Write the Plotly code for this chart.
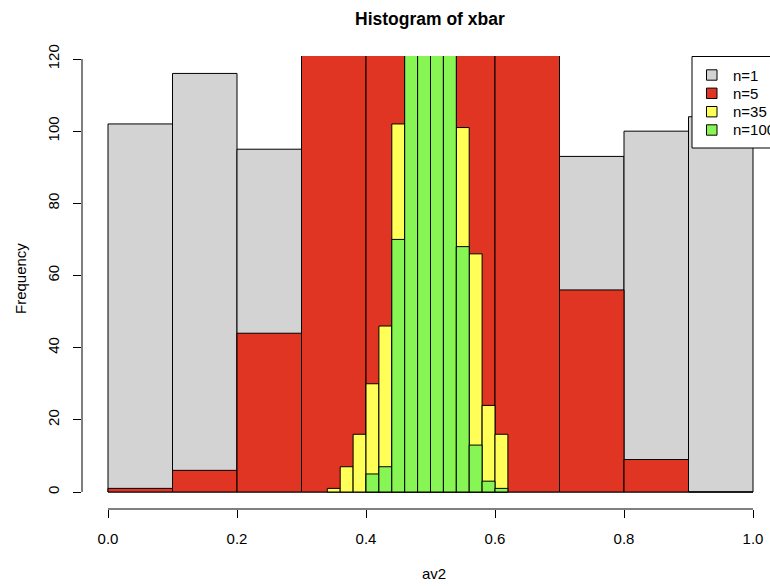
import numpy as np
import plotly.graph_objects as go

# ---- data ----
breaks_n1 = [0.0, 0.1, 0.2, 0.3, 0.4, 0.5, 0.6, 0.7, 0.8, 0.9, 1.0]
counts_n1 = [102, 116, 95, 98, 97, 99, 96, 93, 100, 104]

breaks_n5 = [0.0, 0.1, 0.2, 0.3, 0.4, 0.5, 0.6, 0.7, 0.8, 0.9, 1.0]
counts_n5 = [1, 6, 44, 190, 252, 254, 188, 56, 9, 0]

breaks_n35 = [0.34, 0.36, 0.38, 0.40, 0.42, 0.44, 0.46, 0.48, 0.50, 0.52,
              0.54, 0.56, 0.58, 0.60, 0.62]
counts_n35 = [1, 7, 16, 30, 46, 102, 143, 155, 152, 141, 101, 66, 24, 16]

breaks_n100 = [0.40, 0.42, 0.44, 0.46, 0.48, 0.50, 0.52, 0.54, 0.56, 0.58,
               0.60, 0.62]
counts_n100 = [5, 7, 70, 195, 225, 225, 188, 68, 13, 3, 1]

series_names = ["n=1", "n=5", "n=35", "n=100"]
series_colors = ["#D3D3D3", "#DF3522", "#FFFF58", "#87F553"]

x_tick_vals = [0.0, 0.2, 0.4, 0.6, 0.8, 1.0]
x_tick_text = ["0.0", "0.2", "0.4", "0.6", "0.8", "1.0"]
y_tick_vals = [0, 20, 40, 60, 80, 100, 120]

FONT = "Liberation Sans, Arial, Helvetica, sans-serif"
FS = 15

# plot-area geometry in pixels
L, T, B, W, H = 82, 56, 77, 770, 586
PW, PH = W - L, H - T - B


def px_x(px):
    return (px - L) / PW


def px_y(py):
    return (H - B - py) / PH


fig = go.Figure()
for brks, cnts, name, col in zip(
        [breaks_n1, breaks_n5, breaks_n35, breaks_n100],
        [counts_n1, counts_n5, counts_n35, counts_n100],
        series_names, series_colors):
    b = np.array(brks)
    centers = (b[:-1] + b[1:]) / 2
    widths = np.diff(b)
    fig.add_trace(go.Bar(
        x=centers, y=cnts, width=widths, name=name,
        marker=dict(color=col, line=dict(color="black", width=1)),
    ))

shapes = [
    dict(type="line", xref="x", yref="paper", x0=0, x1=1, y0=0, y1=0,
         line=dict(color="black", width=1)),
    dict(type="line", xref="paper", yref="y", x0=0, x1=0, y0=0, y1=120,
         line=dict(color="black", width=1)),
    # legend box
    dict(type="rect", xref="paper", yref="paper",
         x0=px_x(692), x1=px_x(800), y0=px_y(148), y1=px_y(56.5),
         line=dict(color="black", width=1), fillcolor="white"),
]
annotations = [
    dict(text="<b>Histogram of xbar</b>", xref="paper", yref="paper",
         x=px_x(430.5), y=px_y(19), showarrow=False,
         xanchor="center", yanchor="middle",
         font=dict(family=FONT, size=17.5, color="black")),
    dict(text="av2", xref="paper", yref="paper",
         x=px_x(434), y=px_y(573), showarrow=False,
         xanchor="center", yanchor="middle",
         font=dict(family=FONT, size=FS, color="black")),
    dict(text="Frequency", xref="paper", yref="paper",
         x=px_x(20), y=px_y(279), showarrow=False,
         textangle=-90, xanchor="center", yanchor="middle",
         font=dict(family=FONT, size=FS, color="black")),
]
row_y = [75, 93.3, 111.7, 130]
for name, col, ry in zip(series_names, series_colors, row_y):
    shapes.append(dict(type="rect", xref="paper", yref="paper",
                       x0=px_x(706.5), x1=px_x(717), y0=px_y(ry + 5.2),
                       y1=px_y(ry - 5.2), fillcolor=col,
                       line=dict(color="black", width=1)))
    annotations.append(dict(text=name, xref="paper", yref="paper",
                            x=px_x(731), y=px_y(ry), showarrow=False,
                            xanchor="left", yanchor="middle",
                            font=dict(family=FONT, size=FS,
                                      color="black")))

fig.update_layout(
    width=W, height=H,
    barmode="overlay",
    plot_bgcolor="white", paper_bgcolor="white",
    margin=dict(l=L, r=0, t=T, b=B, autoexpand=False, pad=0),
    font=dict(family=FONT, size=FS, color="black"),
    showlegend=False,
    xaxis=dict(
        range=[-26 / 645, 662 / 645], showgrid=False, zeroline=False,
        showline=False, ticks="outside", ticklen=8, tickwidth=1,
        tickcolor="black", tickvals=x_tick_vals, ticktext=x_tick_text,
        ticklabelstandoff=8,
        tickfont=dict(family=FONT, size=FS, color="black"),
    ),
    yaxis=dict(
        range=[-17 / 3.6083, 120 + 3 / 3.6083], showgrid=False,
        zeroline=False, showline=False, ticks="outside", ticklen=8,
        tickwidth=1, tickcolor="black", tickvals=y_tick_vals,
        tickangle=-90, ticklabelstandoff=8,
        tickfont=dict(family=FONT, size=FS, color="black"),
    ),
    shapes=shapes,
    annotations=annotations,
)

fig.write_html(
    "out.html",
    config={"displayModeBar": False},
    post_script="document.body.style.margin='0';"
                "document.body.style.overflow='hidden';",
)
